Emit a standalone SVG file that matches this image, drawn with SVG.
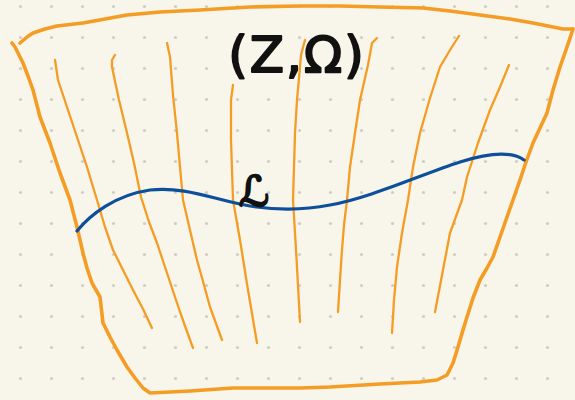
<svg xmlns="http://www.w3.org/2000/svg" width="575" height="400" viewBox="0 0 575 400">
<defs>
<pattern id="dots" x="5" y="-9" width="31" height="31" patternUnits="userSpaceOnUse">
<circle cx="15.5" cy="15.5" r="1.6" fill="#cfcdc6"/>
</pattern>
<style>
.o{fill:none;stroke:#f59c24;stroke-linecap:round;stroke-linejoin:round}
.thin{stroke-width:2.3}
.thick{stroke-width:3.6}
.b{fill:none;stroke:#0d4f9a;stroke-width:3.2;stroke-linecap:round;stroke-linejoin:round}
.t{font-family:"DejaVu Sans",sans-serif;fill:#111;stroke:#111;stroke-linejoin:round}
</style>
</defs>
<rect width="575" height="400" fill="#f8f6ea"/>
<rect width="575" height="400" fill="url(#dots)"/>
<g id="surface">
<path class="o thick" d="M20,43 L27,37 L33,33 L45,29 L57,26 L83,23 L105,19 L127,15 L160,12 L200,10 L250,7 L300,6 L340,6 L380,7 L423,8 L450,11 L480,15 L510,19 L533,23 L553,27 L563,29 L573,29"/>
<path class="o thick" d="M573,29 L567,47 L560,67 L553,90 L547,113 L540,128 L533,143 L526,162 L520,180 L513,200 L507,217 L500,237 L493,257 L487,268 L480,280 L473,298 L467,317 L463,330 L458,347 L453,363 L447,375 L437,380 L420,382 L380,384 L330,387 L300,388 L233,388 L190,391 L150,393 L143,388 L135,378 L127,367 L117,350 L110,337 L103,323 L100,297 L92,283 L87,268 L83,253 L77,227 L70,200 L60,173 L50,143 L40,117 L33,90 L28,76 L23,63 L17,51 L15,47 L12,43"/>
</g>
<g id="fibres">
<path class="o thin" d="M55,60 L58,80 L67,107 L77,137 L87,167 L97,200 L105,227 L113,250 L123,270 L133,290 L143,309 L152,328"/>
<path class="o thin" d="M115,55 L112,60 L112,67 L119,100 L127,133 L134,163 L141,197 L149,222 L157,243 L167,273 L177,303 L185,326 L193,348"/>
<path class="o thin" d="M167,43 L170,57 L173,95 L177,133 L180,167 L183,200 L190,230 L197,260 L204,285 L210,307 L222,340"/>
<path class="o thin" d="M233,85 L231,100 L231,140 L232,170 L233,200 L240,240 L248,290 L257,343"/>
<path class="o thin" d="M305,40 L301,55 L300,67 L297,100 L295,133 L294,167 L293,200 L295,233 L297,267 L300,322"/>
<path class="o thin" d="M377,38 L372,43 L368,65 L360,100 L355,133 L350,167 L347,200 L344,225 L342,250 L340,280 L338,312"/>
<path class="o thin" d="M459,36 L450,50 L440,67 L430,98 L420,133 L413,167 L408,200 L402,233 L397,267 L394,300 L392,333"/>
<path class="o thin" d="M509,65 L500,87 L490,110 L478,143 L467,177 L462,200 L450,233 L443,270 L435,312"/>
</g>
<g id="curve">
<path class="b" d="M77,231 C90,215 115,195 150,190 C185,186 215,200 250,206 C275,210 300,211 330,205 C370,198 420,175 460,162 C485,154 510,150 524,160"/>
</g>
<g id="labels">
<text class="t" x="297" y="72" font-size="50" letter-spacing="2" stroke-width="2" text-anchor="middle">(Z,Ω)</text>
<text class="t" x="254" y="206" font-size="42" stroke-width="2" text-anchor="middle">ℒ</text>
</g>
</svg>
